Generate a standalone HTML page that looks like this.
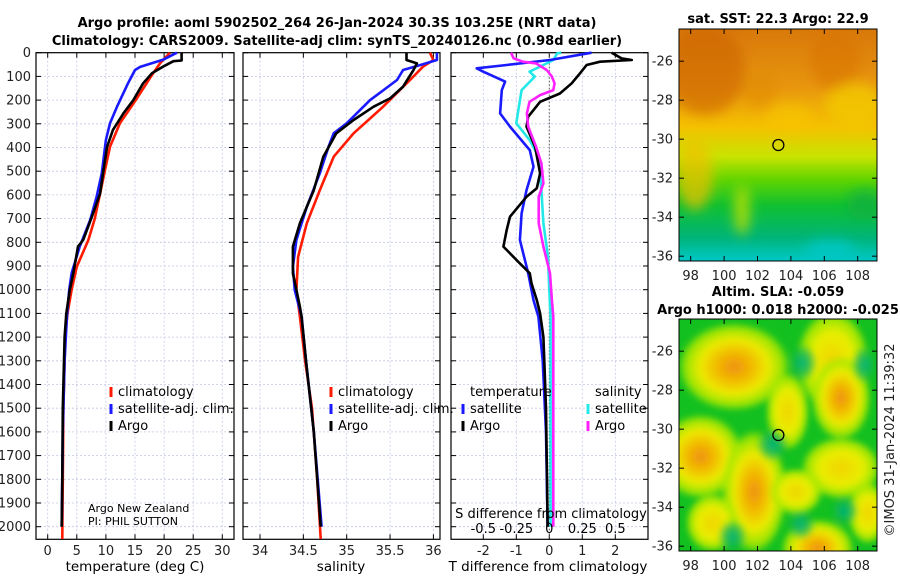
<!DOCTYPE html>
<html><head><meta charset="utf-8">
<style>
body{margin:0;background:#fff;}
svg{display:block;font-family:"DejaVu Sans","Liberation Sans",sans-serif;}
</style></head>
<body>
<svg id="c" width="900" height="580" viewBox="0 0 900 580" xmlns="http://www.w3.org/2000/svg">
<defs>
<filter id="blur1" x="-20%" y="-20%" width="140%" height="140%"><feGaussianBlur stdDeviation="6"/></filter>
<filter id="blur2" x="-50%" y="-50%" width="200%" height="200%"><feGaussianBlur stdDeviation="3"/></filter>
<linearGradient id="sstg" x1="0" y1="0" x2="0" y2="1">
<stop offset="0" stop-color="#d8780a"/><stop offset="0.25" stop-color="#e8960e"/>
<stop offset="0.42" stop-color="#f5c000"/><stop offset="0.55" stop-color="#c8e400"/>
<stop offset="0.65" stop-color="#60d400"/><stop offset="0.76" stop-color="#10c030"/>
<stop offset="0.9" stop-color="#00b478"/><stop offset="1" stop-color="#00c8c8"/>
</linearGradient>
<radialGradient id="hot"><stop offset="0" stop-color="#ee9010"/><stop offset="0.3" stop-color="#f2b800"/><stop offset="0.6" stop-color="#ecea00"/><stop offset="0.85" stop-color="#a8e800" stop-opacity="0.9"/><stop offset="1" stop-color="#a8e800" stop-opacity="0"/></radialGradient>
<radialGradient id="warm"><stop offset="0" stop-color="#f2d400"/><stop offset="0.55" stop-color="#e8ee00"/><stop offset="0.85" stop-color="#a8e800" stop-opacity="0.9"/><stop offset="1" stop-color="#a8e800" stop-opacity="0"/></radialGradient>
<radialGradient id="cool"><stop offset="0" stop-color="#00b080"/><stop offset="0.6" stop-color="#10b850" stop-opacity="0.7"/><stop offset="1" stop-color="#10c020" stop-opacity="0"/></radialGradient>
<clipPath id="m1c"><rect x="679" y="29" width="198" height="232"/></clipPath>
<clipPath id="m2c"><rect x="679" y="319" width="198" height="232"/></clipPath>
</defs>
<g id="root"></g>
</svg>
<script>
// ---------- data ----------
const tDepth = [0,45,94,197,298,397,495,594,700,790,903,1001,1100,1200,1500,1800,2052];
const tClim  = [21.0,19.3,17.9,15.2,12.4,10.7,9.85,9.0,8.1,7.0,5.0,4.1,3.4,3.0,2.7,2.6,2.5];
const tSatDepth = [0,30,60,73,129,228,298,368,509,608,706,818,931,1001,1114,1300,1600,2000];
const tSat   = [22.2,19.8,15.9,15.0,13.8,11.9,10.7,10.0,9.3,8.4,7.3,5.5,4.1,3.7,3.3,2.9,2.6,2.4];
const tArgoDepth = [0,33,36,59,87,129,200,256,326,397,509,594,692,790,818,931,1001,1100,1200,1500,1800,2000];
const tArgo  = [23.0,23.0,21.6,19.8,17.9,16.4,14.7,13.0,11.2,10.2,9.5,9.0,7.6,6.1,5.2,4.4,3.8,3.2,2.9,2.6,2.5,2.4];

const sDepth = [0,31,59,115,228,340,439,580,720,861,1001,1114,1300,1500,1800,2052];
const sClim  = [35.96,36.0,35.88,35.73,35.42,35.08,34.85,34.69,34.54,34.44,34.42,34.46,34.52,34.6,34.66,34.70];
const sSatDepth = [0,31,52,73,115,200,298,340,397,509,650,790,903,1001,1114,1300,1600,2000];
const sSat   = [36.04,36.04,35.85,35.65,35.58,35.27,35.0,34.85,34.79,34.69,34.54,34.42,34.38,34.40,34.48,34.53,34.62,34.71];
const sArgoDepth = [0,31,45,73,143,193,228,284,340,439,580,720,818,931,1001,1072,1114,1300,1600,2000];
const sArgo  = [35.69,35.69,35.81,35.77,35.65,35.5,35.31,35.08,34.88,34.73,34.62,34.46,34.38,34.38,34.42,34.46,34.48,34.53,34.62,34.70];

const dtArgoDepth = [0,24,31,38,52,87,129,172,207,270,312,397,509,572,608,692,748,818,875,931,973,1044,1100,1200,1300,1500,1800,2000];
const dtArgo = [1.89,2.19,2.5,1.54,1.13,0.93,0.68,0.32,-0.28,-0.64,-0.69,-0.43,-0.28,-0.38,-0.69,-1.19,-1.29,-1.39,-0.99,-0.59,-0.54,-0.38,-0.28,-0.18,-0.15,-0.1,-0.07,-0.05];
const dtSatDepth = [0,31,52,66,80,122,158,256,312,411,481,580,678,790,931,1044,1114,1300,1600,2000];
const dtSat  = [1.28,0.02,-1.29,-2.2,-2.0,-1.34,-1.44,-1.49,-1.19,-0.59,-0.48,-0.69,-0.84,-0.89,-0.64,-0.48,-0.33,-0.2,-0.1,-0.05];
const dsSatDepth = [0,3,31,52,80,101,158,228,298,368,439,580,720,861,1001,1114,1500,2000];
const dsSat  = [0.09,0.06,0.03,-0.045,-0.15,-0.11,-0.21,-0.23,-0.25,-0.15,-0.08,-0.06,-0.045,-0.01,0.0,0.01,0.01,0.01];
const dsArgoDepth = [0,24,38,45,73,101,129,158,179,207,256,312,397,467,551,608,720,818,931,1044,1114,1500,2000];
const dsArgo = [-0.29,-0.27,-0.2,-0.1,-0.02,0.02,0.04,0.03,-0.07,-0.15,-0.17,-0.16,-0.1,-0.06,-0.045,-0.08,-0.08,-0.045,0.005,0.02,0.03,0.03,0.03];

const depthTicks = [0,100,200,300,400,500,600,700,800,900,1000,1100,1200,1300,1400,1500,1600,1700,1800,1900,2000];
const tTicks = [0,5,10,15,20,25,30];
const sTicks = [34,34.5,35,35.5,36];
const sTickLabels = ["34","34.5","35","35.5","36"];
const dtTicks = [-2,-1,0,1,2];
const dsTicks = [-0.5,-0.25,0,0.25,0.5];
const dsTickLabels = ["-0.5","-0.25","0","0.25","0.5"];
const lonTicks = [98,100,102,104,106,108];
const latTicks = [-26,-28,-30,-32,-34,-36];
const argoLon = 103.25, argoLat = -30.3;

// ---------- helpers ----------
const NS="http://www.w3.org/2000/svg";
const root=document.getElementById('root');
function mk(tag,attrs,parent,txt){const e=document.createElementNS(NS,tag);for(const k in attrs)e.setAttribute(k,attrs[k]);if(txt!==undefined)e.textContent=txt;(parent||root).appendChild(e);return e;}
const TOP=52.7, BOT=539.3, PXM=0.237;
function yD(d){return TOP+d*PXM;}
function linX(v0,p0,ppu){return v=>p0+(v-v0)*ppu;}
const P=[
 {name:'temperature',left:36,right:234,x:linX(0,47.7,5.82)},
 {name:'salinity',left:243,right:440,x:linX(34,260,86.7)},
 {name:'difference',left:451,right:648,x:linX(0,549.3,33)}
];
const xS=linX(0,549.3,132);

function panelFrame(p,xt,xtLabels,showY){
  const g=mk('g',{});
  
  
  for(const d of depthTicks){
    const l=mk('line',{x1:p.left,x2:p.right,y1:yD(d),y2:yD(d),stroke:'#c4c8e4','stroke-width':0.8,'stroke-dasharray':'2,2'},g);
    
    
    mk('line',{x1:p.left,x2:p.left+5,y1:yD(d),y2:yD(d),stroke:'#000'},g);
    mk('line',{x1:p.right-5,x2:p.right,y1:yD(d),y2:yD(d),stroke:'#000'},g);
    if(showY){const t=mk('text',{x:31,y:yD(d)+4.5,'text-anchor':'end','font-size':13,fill:'#222'},g,String(d));
      
      }
  }
  xt.forEach((v,i)=>{
    const X=p.x(v);
    mk('line',{x1:X,x2:X,y1:TOP,y2:BOT,stroke:'#c4c8e4','stroke-width':0.8,'stroke-dasharray':'2,2'},g);
    mk('line',{x1:X,x2:X,y1:BOT-5,y2:BOT,stroke:'#000'},g);
    mk('line',{x1:X,x2:X,y1:TOP,y2:TOP+5,stroke:'#000'},g);
    const t=mk('text',{x:X,y:555,'text-anchor':'middle','font-size':13,fill:'#222'},g,xtLabels[i]);
    
    
  });
  const r=mk('rect',{x:p.left,y:TOP,width:p.right-p.left,height:BOT-TOP,fill:'none',stroke:'#000','stroke-width':1.2},g);
  
  
}
function series(xf,depths,vals,color,name,w){
  const pts=depths.map((d,i)=>xf(vals[i]).toFixed(1)+','+yD(d).toFixed(1)).join(' ');
  const l=mk('polyline',{points:pts,fill:'none',stroke:color,'stroke-width':w||2.6,'stroke-linejoin':'round'});
  
  
}
function legend(x,y,color,label){
  const m=mk('line',{x1:x,x2:x,y1:y-9,y2:y+1,stroke:color,'stroke-width':3});
  
  
  const t=mk('text',{x:x+7,y:y,'font-size':13,fill:'#000'},root,label);
  
  
}
function txt(x,y,s,size,anchor,weight,name,extra){
  const t=mk('text',Object.assign({x:x,y:y,'font-size':size,'text-anchor':anchor||'start','font-weight':weight||'normal',fill:'#000'},extra||{}),root,s);
  
  
  return t;
}

// ---------- profile panels ----------
panelFrame(P[0],tTicks,tTicks.map(String),true);
panelFrame(P[1],sTicks,sTickLabels,false);
panelFrame(P[2],dtTicks,dtTicks.map(String),false);

const zl=mk('line',{x1:P[2].x(0),x2:P[2].x(0),y1:TOP,y2:BOT,stroke:'#555','stroke-width':1,'stroke-dasharray':'1.5,2'});



series(P[0].x,tDepth,tClim,'#ff1a00','temperature-climatology-line');
series(P[0].x,tSatDepth,tSat,'#1a1aff','temperature-satellite-line');
series(P[0].x,tArgoDepth,tArgo,'#000','temperature-argo-line');
series(P[1].x,sDepth,sClim,'#ff1a00','salinity-climatology-line');
series(P[1].x,sSatDepth,sSat,'#1a1aff','salinity-satellite-line');
series(P[1].x,sArgoDepth,sArgo,'#000','salinity-argo-line');
series(xS,dsSatDepth,dsSat,'#22e8e8','salinity-diff-satellite-line');
series(P[2].x,dtSatDepth,dtSat,'#1a1aff','temperature-diff-satellite-line');
series(P[2].x,dtArgoDepth,dtArgo,'#000','temperature-diff-argo-line');
series(xS,dsArgoDepth,dsArgo,'#ff22ff','salinity-diff-argo-line');

legend(111,396,'#ff1a00','climatology');
legend(111,413,'#1a1aff','satellite-adj. clim.');
legend(111,430,'#000','Argo');
legend(331,396,'#ff1a00','climatology');
legend(331,413,'#1a1aff','satellite-adj. clim.');
legend(331,430,'#000','Argo');
txt(470,396,'temperature',13,'start','normal','legend-title-temperature');
txt(595,396,'salinity',13,'start','normal','legend-title-salinity');
legend(463,413,'#1a1aff','satellite');
legend(463,430,'#000','Argo');
legend(588,413,'#22e8e8','satellite');
legend(588,430,'#ff22ff','Argo');

txt(88,512,'Argo New Zealand',11,'start','normal','float-owner-note');
txt(88,525,'PI: PHIL SUTTON',11,'start','normal','pi-note');
txt(551,518,'S difference from climatology',13,'middle','normal','s-diff-axis-title');
dsTicks.forEach((v,i)=>{txt(xS(v),533,dsTickLabels[i],13,'middle','normal','s-diff-tick-label');});

txt(135,571,'temperature (deg C)',13.5,'middle','normal','x-axis-title-temperature');
txt(341,571,'salinity',13.5,'middle','normal','x-axis-title-salinity');
txt(548,571,'T difference from climatology',13.5,'middle','normal','x-axis-title-t-diff');
txt(337,27,'Argo profile: aoml 5902502_264 26-Jan-2024 30.3S 103.25E (NRT data)',13,'middle','bold','chart-title');
txt(337,45,'Climatology: CARS2009. Satellite-adj clim: synTS_20240126.nc (0.98d earlier)',13,'middle','bold','chart-subtitle');

// ---------- maps ----------
function mx(lon){return 679+(lon-97.3)*16.7;}
function my(lat,top){return top+(-24.35-lat)*19.5;}
function mapFrame(top,name){
  lonTicks.forEach(v=>{
    const X=mx(v);
    mk('line',{x1:X,x2:X,y1:top+232,y2:top+227,stroke:'#000'});
    mk('line',{x1:X,x2:X,y1:top,y2:top+5,stroke:'#000'});
    txt(X,top+251,String(v),13,'middle','normal','lon-tick-label',{fill:'#222'});
  });
  latTicks.forEach(v=>{
    const Y=my(v,top);
    mk('line',{x1:679,x2:684,y1:Y,y2:Y,stroke:'#000'});
    mk('line',{x1:872,x2:877,y1:Y,y2:Y,stroke:'#000'});
    txt(673,Y+4.5,String(v),13,'end','normal','lat-tick-label',{fill:'#222'});
  });
  const r=mk('rect',{x:679,y:top,width:198,height:232,fill:'none',stroke:'#000','stroke-width':1});
  
  
  const c=mk('circle',{cx:mx(argoLon),cy:my(argoLat,top),r:5.5,fill:'none',stroke:'#000','stroke-width':1.3});
  
  
}
// SST map
const g1=mk('g',{'clip-path':'url(#m1c)'});


mk('rect',{x:679,y:29,width:198,height:232,fill:'url(#sstg)'},g1);
const gb1=mk('g',{filter:'url(#blur1)'},g1);
mk('ellipse',{cx:705,cy:70,rx:40,ry:45,fill:'#cc6400',opacity:0.6},gb1);
mk('ellipse',{cx:835,cy:60,rx:25,ry:30,fill:'#d87400',opacity:0.6},gb1);
mk('ellipse',{cx:760,cy:90,rx:18,ry:20,fill:'#e08a00',opacity:0.5},gb1);
mk('ellipse',{cx:855,cy:105,rx:30,ry:22,fill:'#f2c800',opacity:0.8},gb1);
mk('ellipse',{cx:790,cy:118,rx:25,ry:14,fill:'#f6c400',opacity:0.7},gb1);
mk('ellipse',{cx:695,cy:175,rx:18,ry:35,fill:'#f0c000',opacity:0.7},gb1);
mk('ellipse',{cx:742,cy:210,rx:8,ry:25,fill:'#c0e000',opacity:0.8},gb1);
mk('ellipse',{cx:865,cy:205,rx:18,ry:15,fill:'#10b040',opacity:0.8},gb1);
mk('ellipse',{cx:830,cy:250,rx:25,ry:10,fill:'#00c8c8',opacity:0.8},gb1);
mapFrame(29,'sst-map');
txt(778,23,'sat. SST: 22.3 Argo: 22.9',13,'middle','bold','sst-map-title');

// SLA map: [lon, lat, rx(deg lon), ry(deg lat), type]
const blobs=[
 [106.5,-26.5,2.2,2.6,'warm'],[100.6,-26.8,3.4,2.3,'hot'],[107.0,-28.4,1.8,2.2,'hot'],[103.8,-29.1,1.3,2.0,'warm'],
 [98.6,-31.4,2.6,2.2,'hot'],[101.8,-33.2,2.0,3.2,'hot'],[105.6,-36.1,2.2,1.5,'hot'],[107.0,-32.0,2.4,1.6,'warm'],
 [104.3,-33.2,1.6,1.2,'warm'],[99.3,-34.8,1.6,1.5,'warm'],[108.6,-34.3,1.2,1.6,'warm'],
 [104.7,-26.6,0.9,1.0,'cool'],[108.4,-26.7,0.8,1.0,'cool'],[100.5,-35.5,0.9,0.9,'cool'],[102.9,-30.8,1.0,0.9,'cool'],[107.2,-34.2,0.9,0.8,'cool'],[104.6,-34.9,0.9,0.8,'cool']
];
const g2=mk('g',{'clip-path':'url(#m2c)'});


mk('rect',{x:679,y:319,width:198,height:232,fill:'#12c020'},g2);
const gb2=mk('g',{filter:'url(#blur2)'},g2);
blobs.forEach(b=>{
  const e=mk('ellipse',{cx:mx(b[0]),cy:my(b[1],319),rx:b[2]*16.7,ry:b[3]*19.5,fill:'url(#'+b[4]+')'},gb2);
  
  
});
mapFrame(319,'sla-map');
txt(778,296,'Altim. SLA: -0.059',13,'middle','bold','sla-map-title');
txt(778,314,'Argo h1000: 0.018 h2000: -0.025',13,'middle','bold','sla-map-subtitle');
txt(0,0,'©IMOS 31-Jan-2024 11:39:32',13,'middle','normal','imos-timestamp',{transform:'translate(894,440) rotate(-90)',fill:'#222'});
</script>
</body></html>
